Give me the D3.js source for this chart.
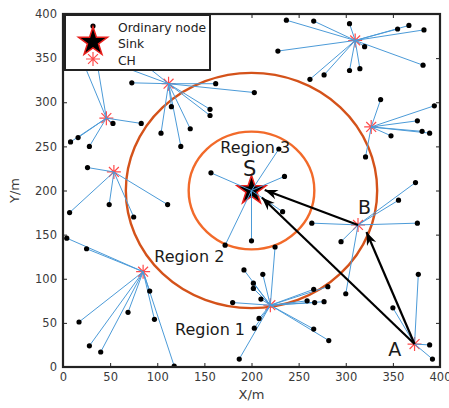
<!DOCTYPE html>
<html><head><meta charset="utf-8">
<script src="https://cdn.jsdelivr.net/npm/d3@7"></script>
<style>
body{margin:0;background:#fff;}
text{font-family:"DejaVu Sans",Arial,sans-serif;}
</style>
</head><body><div id="chart"></div><script>
// sink and cluster heads (x, y in metres)
const sink = [200, 200];
const heads = [[112, 321], [46, 282], [54, 221], [85, 108], [310, 370], [327, 272], [313, 161], [220, 70], [373, 26]];

// ordinary nodes, one list per cluster head (same order as heads)
const members = [
  [[73, 322], [162, 321], [203, 311], [115, 295], [156, 292], [156, 285], [135, 270], [104, 265], [125, 250], [39, 350], [71, 356]],
  [[53, 276], [83, 276], [16, 260], [8, 255], [28, 250], [16, 359], [33, 365]],
  [[26, 226], [49, 184], [7, 175], [75, 170], [111, 184]],
  [[92, 86], [69, 62], [97, 54], [17, 51], [28, 24], [40, 17], [118, 1], [4, 146], [25, 134]],
  [[237, 393], [266, 392], [304, 389], [355, 383], [367, 387], [383, 382], [228, 358], [320, 363], [382, 342], [304, 336], [315, 338], [277, 331], [262, 326]],
  [[337, 303], [394, 296], [376, 279], [381, 267], [389, 265], [348, 262], [321, 238]],
  [[376, 163], [356, 189], [295, 142], [300, 83], [264, 163], [374, 209]],
  [[192, 110], [212, 105], [202, 95], [202, 89], [210, 77], [180, 73], [266, 88], [281, 91], [259, 75], [267, 73], [277, 74], [208, 55], [203, 44], [266, 43], [282, 30], [187, 9], [225, 136]],
  [[377, 105], [350, 67], [389, 25], [392, 9]]
];
const sinkMembers = [[157, 220], [229, 247], [235, 216], [233, 176], [200, 143], [172, 138]];

const ringRadii = [400 / 3, 200 / 3];
const ringColors = ["#d4521a", "#f26a2a"];

// relay arrows: from -> to
const arrows = [
  [[313, 161], [214, 200.5]],
  [[373, 26], [211, 192]],
  [[373, 26], [322, 153]]
];

const ticks = [0, 50, 100, 150, 200, 250, 300, 350, 400];
const legendItems = ["Ordinary node", "Sink", "CH"];

const render = () => {
  const W = 449, H = 408;
  const m = {l: 63, t: 14, r: 9, b: 41};
  const w = W - m.l - m.r, h = H - m.t - m.b;

  const svg = d3.select("#chart").append("svg").attr("width", W).attr("height", H);
  const x = d3.scaleLinear().domain([0, 400]).range([0, w]);
  const y = d3.scaleLinear().domain([0, 400]).range([h, 0]);
  const kx = w / 400, ky = h / 400;

  const defs = svg.append("defs");
  defs.append("clipPath").attr("id", "clip")
    .append("rect").attr("width", w).attr("height", h);
  const mk = defs.append("marker")
    .attr("id", "ah").attr("viewBox", "-14 -6 16 12")
    .attr("markerWidth", 16).attr("markerHeight", 12)
    .attr("markerUnits", "userSpaceOnUse")
    .attr("refX", 0).attr("refY", 0).attr("orient", "auto");
  mk.append("path").attr("d", "M0,0L-13,-5L-9,0L-13,5Z").attr("fill", "#000");

  const g = svg.append("g").attr("transform", `translate(${m.l},${m.t})`);
  const pg = g.append("g").attr("clip-path", "url(#clip)");

  // rings round the sink
  pg.selectAll("ellipse.ring").data(ringRadii).join("ellipse")
    .attr("class", "ring")
    .attr("cx", x(sink[0])).attr("cy", y(sink[1]))
    .attr("rx", d => d * kx).attr("ry", d => d * ky)
    .attr("fill", "none").attr("stroke", (d, i) => ringColors[i]).attr("stroke-width", 2.4);

  // links to heads
  const links = [];
  members.forEach((ms, i) => ms.forEach(p => links.push([p, heads[i]])));
  sinkMembers.forEach(p => links.push([p, sink]));

  // head markers
  const ast = r => {
    let s = "";
    for (let a = 0; a < 4; a++) {
      const t = a * Math.PI / 4;
      s += `M${-r * Math.cos(t)},${-r * Math.sin(t)}L${r * Math.cos(t)},${r * Math.sin(t)}`;
    }
    return s;
  };
  pg.selectAll("path.ch").data(heads).join("path")
    .attr("class", "ch")
    .attr("transform", d => `translate(${x(d[0])},${y(d[1])})`)
    .attr("d", ast(7)).attr("stroke", "#ff4a4a").attr("stroke-width", 1.2).attr("fill", "none");

  pg.append("path")
    .attr("transform", `translate(${x(sink[0])},${y(sink[1])})`)
    .attr("d", d3.symbol(d3.symbolStar).size(260)())
    .attr("fill", "#000").attr("stroke", "#e8201c").attr("stroke-width", 1.5);

  pg.selectAll("line.lk").data(links).join("line")
    .attr("class", "lk")
    .attr("x1", d => x(d[0][0])).attr("y1", d => y(d[0][1]))
    .attr("x2", d => x(d[1][0])).attr("y2", d => y(d[1][1]))
    .attr("stroke", "#4c9bd8").attr("stroke-width", 1);

  const dots = members.flat().concat(sinkMembers);
  pg.selectAll("circle.nd").data(dots).join("circle")
    .attr("class", "nd")
    .attr("cx", d => x(d[0])).attr("cy", d => y(d[1])).attr("r", 2.6).attr("fill", "#000");

  // arrows
  g.selectAll("line.ar").data(arrows).join("line")
    .attr("class", "ar")
    .attr("x1", d => x(d[0][0])).attr("y1", d => y(d[0][1]))
    .attr("x2", d => x(d[1][0])).attr("y2", d => y(d[1][1]))
    .attr("stroke", "#000").attr("stroke-width", 2.2).attr("marker-end", "url(#ah)");

  // labels
  const lab = (t, px, py, fs) => g.append("text").attr("x", x(px)).attr("y", y(py))
    .attr("font-size", fs).attr("text-anchor", "middle").attr("fill", "#1a1a1a").text(t);
  lab("Region 3", 204, 242, 16);
  lab("S", 198, 216.5, 21);
  lab("Region 2", 134, 119, 16);
  lab("Region 1", 156, 36, 16);
  lab("B", 320, 173, 19);
  lab("A", 352, 13, 19);

  // axes
  g.append("g").attr("transform", `translate(0,${h})`)
    .call(d3.axisBottom(x).tickValues(ticks).tickSize(-4).tickPadding(6))
    .call(a => a.select(".domain").remove());
  g.append("g").call(d3.axisLeft(y).tickValues(ticks).tickSize(-4).tickPadding(6))
    .call(a => a.select(".domain").remove());
  g.append("g").call(d3.axisTop(x).tickValues(ticks).tickSize(-4).tickFormat(""))
    .call(a => a.select(".domain").remove());
  g.append("g").attr("transform", `translate(${w},0)`)
    .call(d3.axisRight(y).tickValues(ticks).tickSize(-4).tickFormat(""))
    .call(a => a.select(".domain").remove());
  g.selectAll(".tick text").attr("font-size", 11.5).attr("fill", "#3a3a3a")
    .attr("font-family", "DejaVu Sans, Arial, sans-serif");
  g.selectAll(".tick line").attr("stroke", "#222");

  g.append("rect").attr("width", w).attr("height", h)
    .attr("fill", "none").attr("stroke", "#222").attr("stroke-width", 2.2);

  svg.append("text").attr("x", m.l + w / 2).attr("y", 399).attr("text-anchor", "middle")
    .attr("font-size", 13).attr("fill", "#3a3a3a").text("X/m");
  svg.append("text").attr("transform", `translate(19,${m.t + h / 2}) rotate(-90)`)
    .attr("text-anchor", "middle").attr("font-size", 13).attr("fill", "#3a3a3a").text("Y/m");

  // legend
  const lg = svg.append("g").attr("transform", "translate(65,15)");
  lg.append("rect").attr("width", 145).attr("height", 55)
    .attr("fill", "#fff").attr("stroke", "#222").attr("stroke-width", 2);
  lg.append("circle").attr("cx", 28).attr("cy", 11).attr("r", 2.6).attr("fill", "#000");
  lg.append("path").attr("transform", "translate(28,27)")
    .attr("d", d3.symbol(d3.symbolStar).size(260)())
    .attr("fill", "#000").attr("stroke", "#e8201c").attr("stroke-width", 1.5);
  lg.append("path").attr("transform", "translate(28,44)")
    .attr("d", ast(7)).attr("stroke", "#ff4a4a").attr("stroke-width", 1.2).attr("fill", "none");
  lg.selectAll("text").data(legendItems).join("text")
    .attr("x", 53).attr("y", (d, i) => 16.5 + i * 16.7)
    .attr("font-size", 12.3).attr("fill", "#222")
    .text(d => d);
};
render();
</script></body></html>
